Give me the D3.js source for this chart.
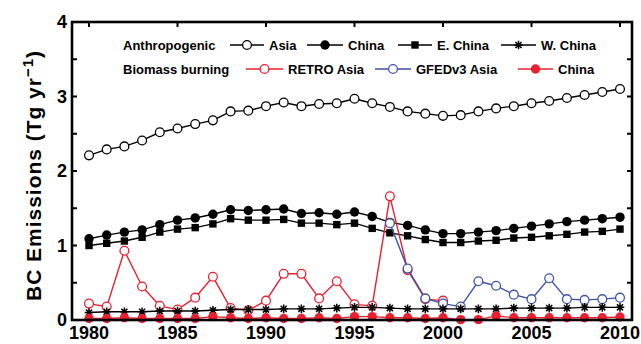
<!DOCTYPE html>
<html><head><meta charset="utf-8">
<script src="https://cdn.jsdelivr.net/npm/d3@7"></script>
<style>
body{margin:0;background:#fff}
text{font-family:"Liberation Sans",Arial,Helvetica,sans-serif;font-weight:bold;fill:#000}
</style>
</head><body><svg id="c" width="641" height="344"></svg>
<script>
const years = [1980,1981,1982,1983,1984,1985,1986,1987,1988,1989,1990,1991,1992,1993,1994,1995,1996,1997,1998,1999,2000,2001,2002,2003,2004,2005,2006,2007,2008,2009,2010];
const asiaAnthro = [2.21,2.29,2.33,2.41,2.52,2.57,2.63,2.68,2.80,2.81,2.87,2.92,2.87,2.90,2.91,2.97,2.91,2.86,2.80,2.77,2.74,2.75,2.80,2.84,2.87,2.91,2.94,2.98,3.02,3.06,3.10];
const chinaAnthro = [1.09,1.14,1.18,1.21,1.28,1.34,1.37,1.42,1.48,1.47,1.48,1.49,1.43,1.44,1.42,1.45,1.39,1.31,1.27,1.21,1.16,1.16,1.18,1.20,1.23,1.26,1.29,1.32,1.34,1.36,1.38];
const eChina = [1.00,1.03,1.06,1.11,1.18,1.22,1.24,1.29,1.36,1.34,1.34,1.35,1.30,1.30,1.28,1.30,1.23,1.17,1.13,1.08,1.04,1.04,1.06,1.07,1.10,1.11,1.13,1.15,1.18,1.19,1.22];
const wChina = [0.10,0.11,0.11,0.11,0.12,0.12,0.12,0.13,0.14,0.14,0.14,0.15,0.15,0.15,0.16,0.17,0.17,0.16,0.15,0.15,0.15,0.15,0.15,0.15,0.16,0.16,0.16,0.16,0.17,0.17,0.17];
const retroYears = [1980,1981,1982,1983,1984,1985,1986,1987,1988,1989,1990,1991,1992,1993,1994,1995,1996,1997,1998,1999,2000];
const retroAsia = [0.22,0.18,0.93,0.45,0.19,0.14,0.30,0.58,0.16,0.13,0.26,0.62,0.62,0.29,0.52,0.21,0.19,1.66,0.67,0.28,0.26];
const gfedYears = [1997,1998,1999,2000,2001,2002,2003,2004,2005,2006,2007,2008,2009,2010];
const gfedAsia = [1.30,0.69,0.29,0.22,0.18,0.52,0.46,0.34,0.28,0.56,0.28,0.27,0.28,0.30];
const chinaBB = [0.02,0.02,0.03,0.02,0.02,0.02,0.02,0.045,0.03,0.02,0.03,0.02,0.02,0.03,0.02,0.045,0.045,0.03,0.03,0.02,0.03,0.005,0.005,0.055,0.03,0.03,0.03,0.03,0.03,0.03,0.04];
const xTicks = [1980,1985,1990,1995,2000,2005,2010];
const yLabelTicks = [0,1,2,3,4];
const yMinorTicks = [0,0.5,1,1.5,2,2.5,3,3.5,4];

const RED = "#e8202f", BLUE = "#3d52a6";
const svg = d3.select("#c");
const L = 72, R = 632, T = 22, B = 320;
const x = d3.scaleLinear().domain([1980, 2010]).range([89, 620]);
const y = d3.scaleLinear().domain([0, 4]).range([B, T]);

// ticks (inward) on all sides
const tk = 5;
const g = svg.append("g").attr("stroke", "#000").attr("stroke-width", 2);
xTicks.forEach(v => {
  g.append("line").attr("x1", x(v)).attr("x2", x(v)).attr("y1", B).attr("y2", B - tk);
  g.append("line").attr("x1", x(v)).attr("x2", x(v)).attr("y1", T).attr("y2", T + tk);
});
yMinorTicks.forEach(v => {
  g.append("line").attr("x1", L).attr("x2", L + tk).attr("y1", y(v)).attr("y2", y(v));
  g.append("line").attr("x1", R).attr("x2", R - tk).attr("y1", y(v)).attr("y2", y(v));
});

// tick labels
svg.append("g").selectAll("text").data(xTicks).join("text")
  .attr("x", d => x(d)).attr("y", 339).attr("text-anchor", "middle")
  .attr("font-size", 18).text(d => d);
svg.append("g").selectAll("text").data(yLabelTicks).join("text")
  .attr("x", 67).attr("y", d => y(d) + 6).attr("text-anchor", "end")
  .attr("font-size", 18).text(d => d);

// y-axis title
const yt = svg.append("text").attr("transform", "translate(41,176) rotate(-90)")
  .attr("text-anchor", "middle").attr("font-size", 21)
  .attr("textLength", 250).attr("lengthAdjust", "spacing");
yt.append("tspan").text("BC Emissions (Tg yr");
yt.append("tspan").attr("dy", -8).attr("font-size", 15).text("\u22121");
yt.append("tspan").attr("dy", 8).text(")");

// marker helpers
function star(sel, cx, cy, s) {
  const p = d3.path();
  for (let k = 0; k < 4; k++) {
    const a = k * Math.PI / 4;
    p.moveTo(cx - s * Math.cos(a), cy - s * Math.sin(a));
    p.lineTo(cx + s * Math.cos(a), cy + s * Math.sin(a));
  }
  sel.append("path").attr("d", p.toString()).attr("stroke", "#000").attr("stroke-width", 1.5).attr("fill", "none");
}
function marker(sel, type, cx, cy, color) {
  if (type === "open") sel.append("circle").attr("cx", cx).attr("cy", cy).attr("r", 4.4).attr("fill", "#fff").attr("stroke", color).attr("stroke-width", 1.3);
  else if (type === "fill") sel.append("circle").attr("cx", cx).attr("cy", cy).attr("r", 4.7).attr("fill", color);
  else if (type === "square") sel.append("rect").attr("x", cx - 3.7).attr("y", cy - 3.7).attr("width", 7.4).attr("height", 7.4).attr("fill", color);
  else if (type === "star") star(sel, cx, cy, 4.3);
}
function series(xs, vs, type, color) {
  const gg = svg.append("g");
  const line = d3.line().x((d, i) => x(xs[i])).y(d => y(d));
  gg.append("path").attr("d", line(vs)).attr("fill", "none").attr("stroke", color).attr("stroke-width", 1.4);
  vs.forEach((v, i) => marker(gg, type, x(xs[i]), y(v), color));
}

series(years, asiaAnthro, "open", "#000");
series(years, chinaAnthro, "fill", "#000");
series(years, eChina, "square", "#000");
series(retroYears, retroAsia, "open", RED);
series(gfedYears, gfedAsia, "open", BLUE);
series(years, wChina, "star", "#000");
series(years, chinaBB, "fill", RED);

// frame
svg.append("rect").attr("x", L).attr("y", T).attr("width", R - L).attr("height", B - T)
  .attr("fill", "none").attr("stroke", "#000").attr("stroke-width", 2.6);

// legend
const leg = svg.append("g");
leg.append("text").attr("x", 123).attr("y", 50).attr("font-size", 13).text("Anthropogenic");
leg.append("text").attr("x", 123).attr("y", 74).attr("font-size", 13).text("Biomass burning");
const legItems = [
  {x1: 230, x2: 264, label: "Asia", type: "open", color: "#000", row: 0},
  {x1: 307, x2: 343, label: "China", type: "fill", color: "#000", row: 0},
  {x1: 398, x2: 432, label: "E. China", type: "square", color: "#000", row: 0},
  {x1: 501, x2: 536, label: "W. China", type: "star", color: "#000", row: 0},
  {x1: 246, x2: 283, label: "RETRO Asia", type: "open", color: RED, row: 1},
  {x1: 375, x2: 411, label: "GFEDv3 Asia", type: "open", color: BLUE, row: 1},
  {x1: 518, x2: 553, label: "China", type: "fill", color: RED, row: 1}
];
legItems.forEach(it => {
  const cy = it.row === 0 ? 45 : 69;
  leg.append("line").attr("x1", it.x1).attr("x2", it.x2).attr("y1", cy).attr("y2", cy).attr("stroke", it.color).attr("stroke-width", 1.4);
  marker(leg, it.type, (it.x1 + it.x2) / 2, cy, it.color);
  leg.append("text").attr("x", it.x2 + 5).attr("y", cy + 5).attr("font-size", 13).text(it.label);
});
</script>
</body></html>
